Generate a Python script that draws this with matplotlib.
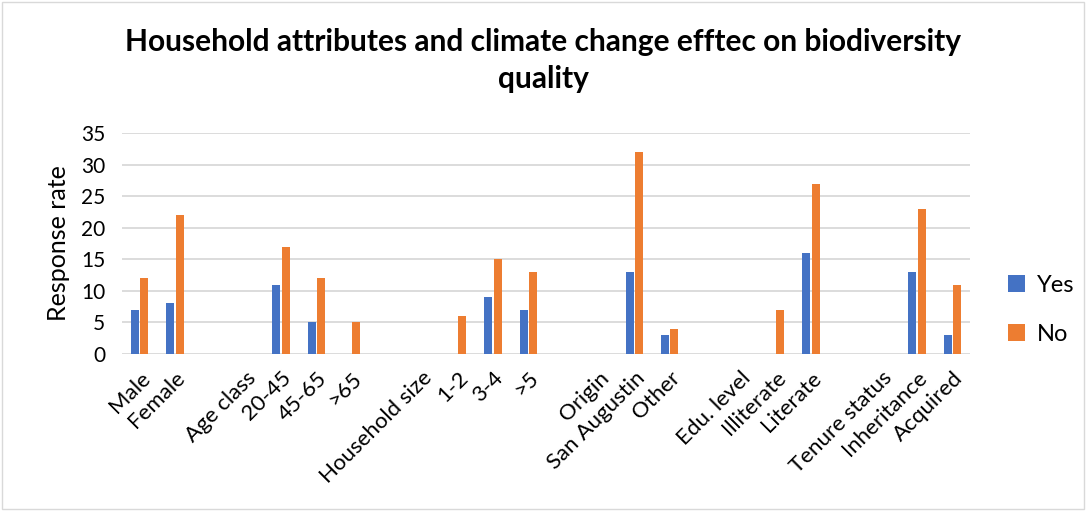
import matplotlib
matplotlib.use("Agg")
import matplotlib.pyplot as plt
import numpy as np

plt.rcParams['font.family'] = ['Lato', 'DejaVu Sans']

# categories (empty strings are the spacer slots in the original chart)
categories = ["Male", "Female", "", "Age class", "20-45", "45-65", ">65", "",
              "Household size", "1-2", "3-4", ">5", "", "Origin", "San Augustin",
              "Other", "", "Edu. level", "Illiterate", "Literate", "",
              "Tenure status", "Inheritance", "Acquired"]
yes_vals = [7, 8, 0, 0, 11, 5, 0, 0, 0, 0, 9, 7, 0, 0, 13, 3, 0, 0, 0, 16, 0, 0, 13, 3]
no_vals = [12, 22, 0, 0, 17, 12, 5, 0, 0, 6, 15, 13, 0, 0, 32, 4, 0, 0, 7, 27, 0, 0, 23, 11]

blue = "#4472C4"
orange = "#ED7D31"

fig = plt.figure(figsize=(10.86, 5.11), dpi=100)
ax = fig.add_axes([122/1086, 157/511, 848/1086, 221/511])

x = np.arange(len(categories))
w = 0.23
ax.bar(x - 0.13, yes_vals, w, color=blue, label="Yes", zorder=3)
ax.bar(x + 0.13, no_vals, w, color=orange, label="No", zorder=3)

ax.set_xlim(-0.5, len(categories) - 0.5)
ax.set_ylim(0, 35)
ax.set_yticks(range(0, 36, 5))
ax.yaxis.grid(True, color="#D9D9D9", linewidth=1.3, zorder=0)
ax.tick_params(axis="both", length=0, labelsize=15)
ax.tick_params(axis="y", pad=12)
ax.tick_params(axis="x", pad=10, labelsize=16)
ax.set_xticks(x)
ax.set_xticklabels(categories, rotation=45, ha="right", rotation_mode="anchor")
for s in ax.spines.values():
    s.set_visible(False)
ax.set_ylabel("Response rate", fontsize=18, labelpad=8)

fig.suptitle("Household attributes and climate change efftec on biodiversity\nquality",
             fontsize=21.5, fontweight="bold", y=0.945, linespacing=1.4)

ax.legend(loc="center left", bbox_to_anchor=(1.02, 0.2), frameon=False,
          fontsize=17, handlelength=0.7, handleheight=0.7, labelspacing=1.2,
          handletextpad=0.5)

# light outer border like the Excel chart area
fig.patches.append(plt.Rectangle((0.002, 0.004), 0.996, 0.992, transform=fig.transFigure,
                                 fill=False, edgecolor="#D9D9D9", linewidth=1))

fig.savefig("out.png", dpi=100)
